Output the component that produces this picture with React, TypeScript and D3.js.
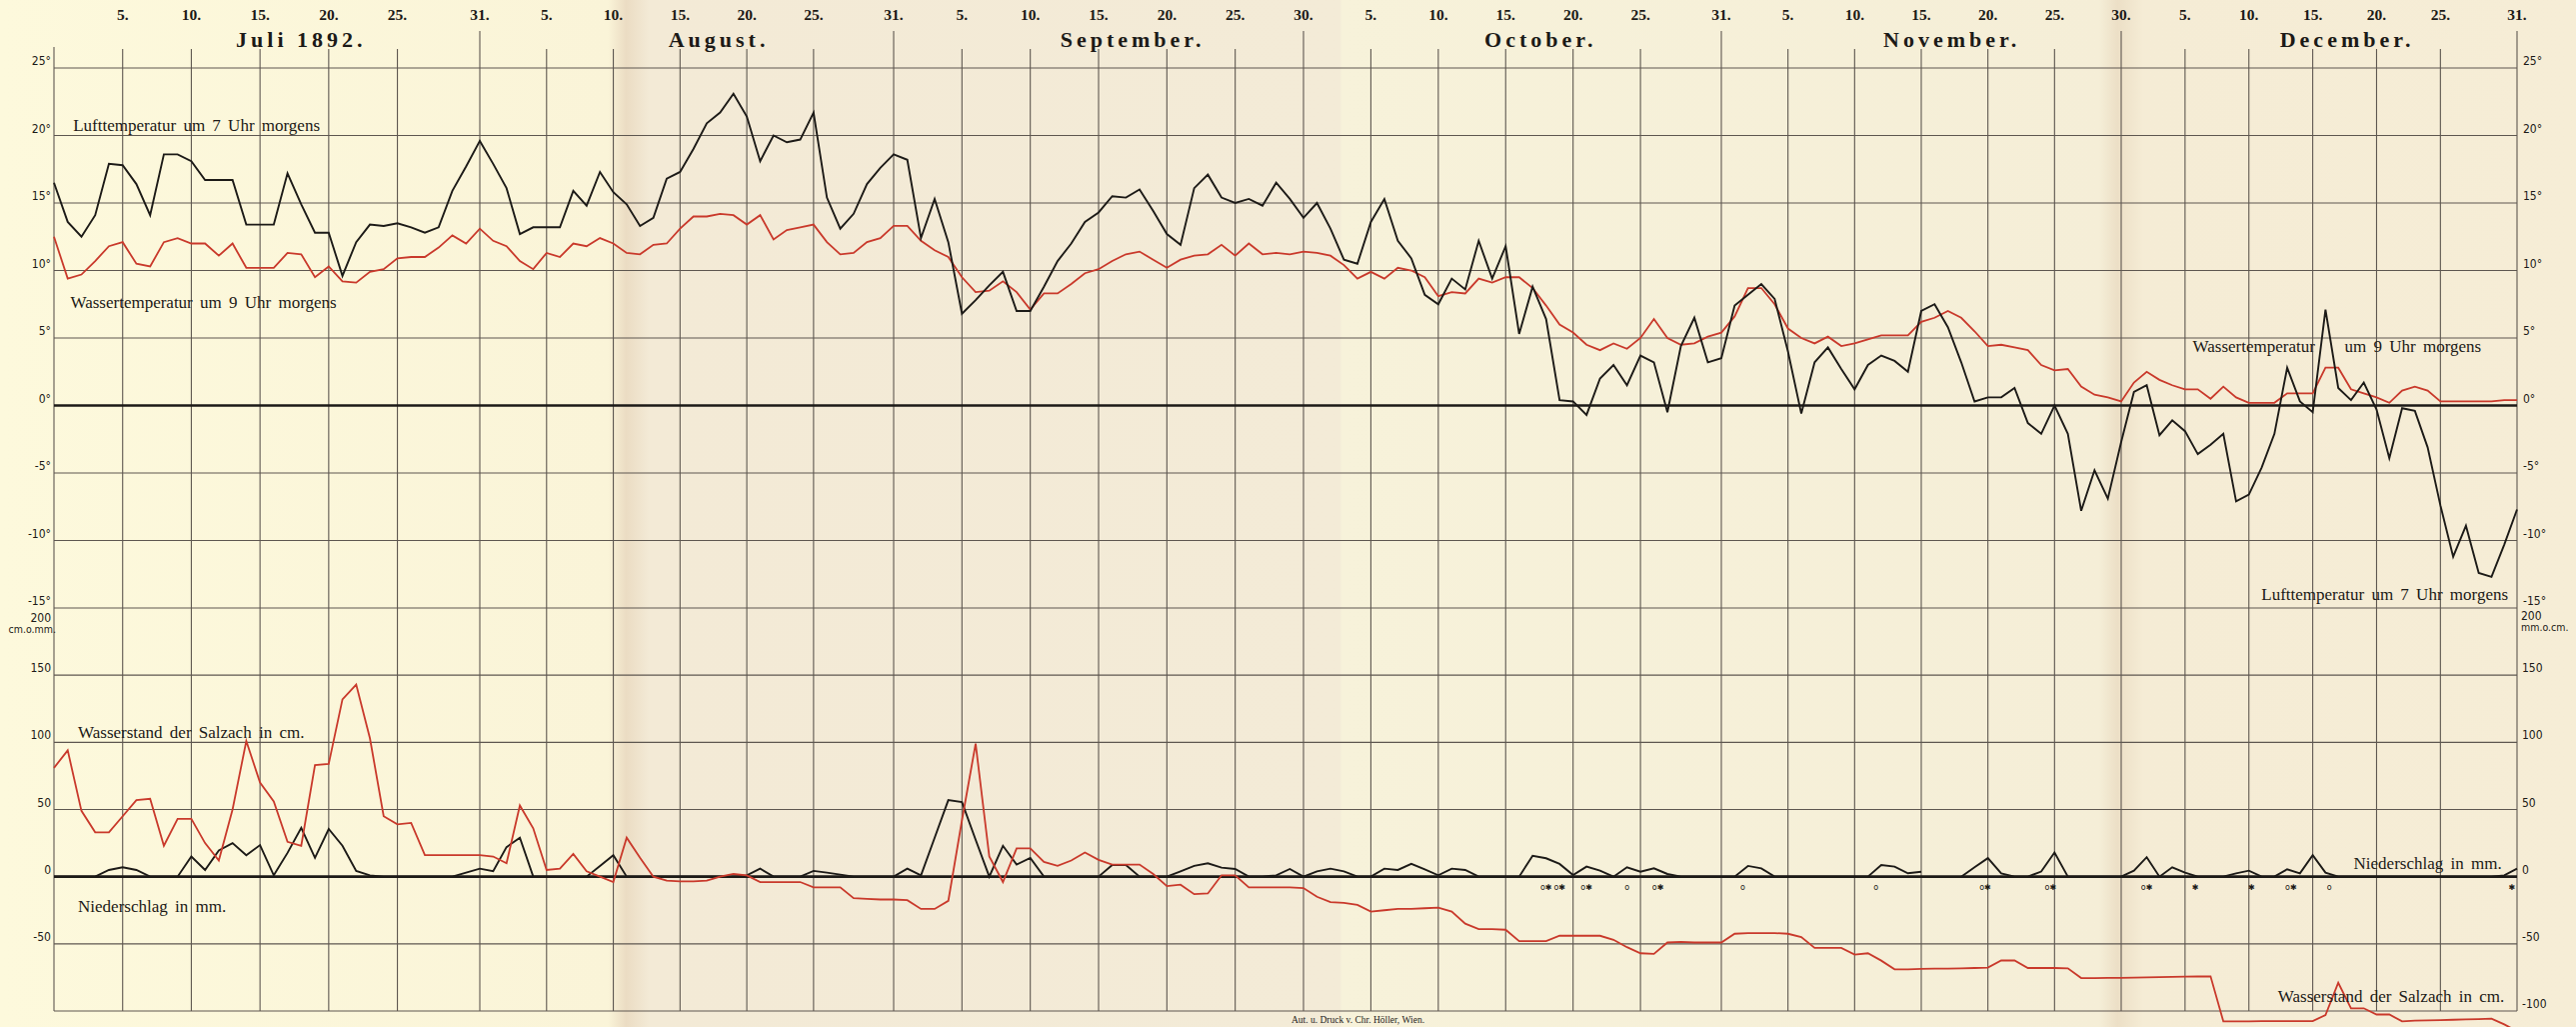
import React, { useEffect, useRef } from 'react';
import * as d3 from 'd3';

const W = 2577;
const H = 1027;

const months = ['Juli 1892.', 'August.', 'September.', 'October.', 'November.', 'December.'];
const monthLengths = [31, 31, 30, 31, 30, 31];
// where the month names sit, counted in chart days
const monthLabelDays = [18, 48.9, 79.5, 109.6, 140.3, 170.7];
const tickDayNumbers = [5, 10, 15, 20, 25];

const tempTicks = [25, 20, 15, 10, 5, 0, -5, -10, -15];
const levelTicksLeft = [150, 100, 50, 0, -50];
const levelTicksRight = [150, 100, 50, 0, -50, -100];

// one value per day, day 0 = left edge of the sheet, day 184 = 31. December
const lufttemperatur = [
  16.5, 13.6, 12.5, 14.1, 17.9, 17.8, 16.4, 14.1, 18.6, 18.6,
  18.1, 16.7, 16.7, 16.7, 13.4, 13.4, 13.4, 17.2, 14.9, 12.8,
  12.8, 9.6, 12.1, 13.4, 13.3, 13.5, 13.2, 12.8, 13.2, 15.9,
  17.7, 19.6, 17.9, 16.1, 12.7, 13.2, 13.2, 13.2, 15.9, 14.8,
  17.3, 15.8, 14.9, 13.3, 13.9, 16.8, 17.3, 19.0, 20.9, 21.7,
  23.1, 21.4, 18.1, 20.0, 19.5, 19.7, 21.7, 15.4, 13.1, 14.2,
  16.4, 17.6, 18.6, 18.2, 12.4, 15.3, 12.1, 6.8, 7.8, 8.9,
  9.9, 7.0, 7.0, 8.8, 10.7, 12.0, 13.6, 14.3, 15.5, 15.4,
  16.0, 14.4, 12.7, 11.9, 16.1, 17.1, 15.4, 15.0, 15.3, 14.8,
  16.5, 15.3, 13.9, 15.0, 13.1, 10.8, 10.5, 13.6, 15.3, 12.2,
  10.9, 8.2, 7.5, 9.4, 8.6, 12.2, 9.4, 11.8, 5.3, 8.8,
  6.4, 0.4, 0.3, -0.7, 2.0, 3.0, 1.5, 3.7, 3.2, -0.5,
  4.4, 6.5, 3.2, 3.5, 7.4, 8.2, 9.0, 7.9, 4.0, -0.6,
  3.2, 4.3, 2.7, 1.2, 3.0, 3.7, 3.3, 2.5, 7.0, 7.5,
  5.8, 3.2, 0.3, 0.6, 0.6, 1.3, -1.3, -2.1, 0.0, -2.1,
  -7.8, -4.8, -6.9, -2.7, 1.0, 1.5, -2.2, -1.1, -1.9, -3.6,
  -2.9, -2.1, -7.1, -6.6, -4.6, -2.1, 2.8, 0.3, -0.5, 7.1,
  1.3, 0.4, 1.7, -0.3, -3.9, -0.2, -0.4, -3.1, -7.4, -11.2,
  -8.9, -12.4, -12.7, -10.3, -7.7,
];

const wassertemperatur = [
  12.5, 9.4, 9.7, 10.7, 11.8, 12.1, 10.5, 10.3, 12.1, 12.4,
  12.0, 12.0, 11.1, 12.0, 10.2, 10.2, 10.2, 11.3, 11.2, 9.5,
  10.3, 9.2, 9.1, 9.9, 10.1, 10.9, 11.0, 11.0, 11.7, 12.6,
  12.0, 13.1, 12.2, 11.8, 10.7, 10.1, 11.3, 11.0, 12.0, 11.8,
  12.4, 12.0, 11.3, 11.2, 11.9, 12.0, 13.1, 14.0, 14.0, 14.2,
  14.1, 13.4, 14.1, 12.3, 13.0, 13.2, 13.4, 12.1, 11.2, 11.3,
  12.1, 12.4, 13.3, 13.3, 12.2, 11.5, 11.0, 9.5, 8.4, 8.5,
  9.2, 8.4, 7.1, 8.3, 8.3, 9.0, 9.8, 10.1, 10.7, 11.2,
  11.4, 10.8, 10.2, 10.8, 11.1, 11.2, 11.9, 11.1, 12.0, 11.2,
  11.3, 11.2, 11.4, 11.3, 11.1, 10.4, 9.4, 9.9, 9.4, 10.2,
  10.0, 9.5, 8.1, 8.4, 8.3, 9.4, 9.1, 9.5, 9.5, 8.7,
  7.4, 6.0, 5.4, 4.5, 4.1, 4.6, 4.2, 5.0, 6.4, 5.0,
  4.5, 4.6, 5.1, 5.4, 6.6, 8.7, 8.7, 7.5, 5.7, 5.0,
  4.6, 5.1, 4.4, 4.6, 4.9, 5.2, 5.2, 5.2, 6.2, 6.5,
  7.0, 6.5, 5.5, 4.4, 4.5, 4.3, 4.1, 3.0, 2.6, 2.7,
  1.4, 0.8, 0.6, 0.3, 1.7, 2.5, 1.9, 1.5, 1.2, 1.2,
  0.5, 1.4, 0.6, 0.2, 0.2, 0.2, 0.9, 0.9, 0.9, 2.8,
  2.8, 1.2, 0.9, 0.6, 0.2, 1.1, 1.4, 1.1, 0.3, 0.3,
  0.3, 0.3, 0.3, 0.4, 0.4,
];

const wasserstand = [
  81, 94, 49, 33, 33, 45, 57, 58, 23, 43,
  43, 25, 12, 50, 101, 70, 56, 26, 23, 83,
  84, 132, 143, 103, 45, 39, 40, 16, 16, 16,
  16, 16, 15, 10, 53, 36, 5, 6, 17, 4,
  0, -4, 29, 14, 0, -3, -3.5, -3.5, -3, 0,
  2, 1, -4, -4, -4, -4, -8, -8, -8, -16,
  -16.5, -17, -17, -17.5, -24, -24, -18, 42, 99, 15,
  -4, 21, 21, 11, 8, 12, 18, 12.5, 9, 9,
  9, 2, -7, -6, -13, -12.5, 1, 1, -8, -8,
  -8, -8, -8.5, -15, -19, -19.5, -21, -26, -25, -24,
  -24, -23.5, -23, -26, -35, -39, -39, -39.5, -48, -48,
  -48, -44, -44, -44, -44, -47, -52.5, -57, -57.5, -49,
  -48.5, -49, -49, -49, -42.5, -42, -42, -42, -42.5, -45,
  -53, -53, -53, -58, -57, -62.5, -69, -69, -68.7, -68.5,
  -68.4, -68.2, -68, -67.7, -62.4, -62.4, -68, -68, -68, -68.2,
  -75.5, -75.5, -75.4, -75.3, -75.2, -75, -74.8, -74.6, -74.4, -74.3,
  -74.2, -107.7, -107.7, -107.7, -107.6, -107.6, -107.6, -107.5, -107.5, -103,
  -79, -98, -98, -102.6, -102.6, -107.7, -107.2, -107, -106.8, -106.5,
  -106.2, -106, -105.7, -110, -115,
];

// null = nothing recorded
const niederschlag: (number | null)[] = [
  0, 0, 0, 0, 5, 7, 5, 0, 0, 0,
  15, 5, 19.5, 25, 16, 23.5, 1, 17.7, 36.3, 14,
  35.5, 23, 4.3, 1, 0, 0, 0, 0, 0, 0,
  3, 6, 4, 22, 29, 0, 0, 0, 0, 0,
  8, 16, 0, 0, 0, 0, 0, 0, 0, 0,
  0, 1, 6, 0, 0, 0, 4.3, 3, 1.5, 0,
  0, 0, 0, 6, 1, 29, 57, 55.5, 27.5, 0,
  23, 9, 14, 0, 0, 0, 0, 0, 8.7, 8.7,
  0, 0, 0, 4, 8, 10, 6.7, 5.7, 0, 0,
  1, 5.7, 0, 4, 6, 4, 0, 0, 6, 5,
  9.5, 5.5, 1, 6, 5, 0, 0, 0, 0, 15.5,
  13.7, 9.5, 1.2, 7.5, 4.5, 0, 7, 3.7, 6.2, 2,
  0, 0, 0, 0, 0, 8, 6.2, 0, 0, 0,
  0, 0, 0, 0, 0, 8.7, 7.5, 2.5, 3.7, null,
  null, 0, 7, 13.8, 2.5, 0, 0, 3.8, 18, 0,
  0, 0, 0, 0, 4.5, 14.5, 0, 7, 3, 0,
  0, 0, 2.5, 4.5, 0, 0, 5.5, 2.5, 16, 3,
  0, 0, 0, 0, 0, 0, 0, 0, 0, 0,
  0, 0, 0, 1, 6,
];

// rain (o) and snow (✱) signs under the zero line
const markDays = [110, 111, 113, 116, 118.3, 124.6, 134.6, 142.8, 147.7, 155, 158.8, 163.2, 166.3, 169.3, 183.6];
const markSigns = ['o✱', 'o✱', 'o✱', 'o', 'o✱', 'o', 'o', 'o✱', 'o✱', 'o✱', '✱', '✱', 'o✱', 'o', '✱'];

const SERIF = '"Liberation Serif", "DejaVu Serif", serif';
const NARROW = '"Liberation Sans Narrow", "DejaVu Sans Condensed", "Liberation Sans", sans-serif';
const INK = '#1c1a17';
const RED = '#c9392b';
const GRID = '#5e5750';

const App: React.FC = () => {
  const svgRef = useRef<SVGSVGElement>(null);

  useEffect(() => {
    if (!svgRef.current) return;
    const svg = d3.select(svgRef.current);
    svg.selectAll('*').remove();

    const monthStarts = Array.from(d3.cumsum([0, ...monthLengths]));
    const lastDay = monthStarts[monthStarts.length - 1];

    // the printed grid is not quite even, so pin each month end
    const x = d3.scaleLinear().domain(monthStarts).range([54, 480, 894, 1304, 1722, 2122, 2518]);
    const yTemp = d3.scaleLinear().domain([-15, 25]).range([608, 68]);
    const yLevel = d3.scaleLinear().domain([-100, 200]).range([1011, 608]);

    const left = x(0);
    const right = x(lastDay);
    const bottom = yLevel(-100);

    // paper with its folds
    const defs = svg.append('defs');
    const paper = defs.append('linearGradient').attr('id', 'paper')
      .attr('x1', '0%').attr('x2', '100%').attr('y1', '0%').attr('y2', '0%');
    [
      [0, '#fdf9dc'], [0.236, '#faf4d8'], [0.243, '#ebdcc3'], [0.252, '#f3ead6'],
      [0.52, '#f3ebd7'], [0.521, '#f7f2da'], [0.815, '#f5eed7'], [0.822, '#ecdfc6'],
      [0.832, '#f5ecd5'], [1, '#f6edd6'],
    ].forEach(([o, c]) => paper.append('stop').attr('offset', o as number).attr('stop-color', c as string));
    svg.append('rect').attr('width', W).attr('height', H).attr('fill', 'url(#paper)');

    // vertical day lines
    const ticks: { day: number; label: string; end: boolean }[] = [];
    months.forEach((_, i) => {
      [...tickDayNumbers, monthLengths[i]].forEach(d => {
        ticks.push({ day: monthStarts[i] + d, label: `${d}.`, end: d === monthLengths[i] });
      });
    });

    const grid = svg.append('g').attr('stroke', GRID).attr('stroke-width', 1.1);
    grid.append('line').attr('x1', left).attr('x2', left).attr('y1', 47).attr('y2', bottom);
    grid.selectAll('line.day').data(ticks).join('line').attr('class', 'day')
      .attr('x1', d => x(d.day)).attr('x2', d => x(d.day))
      .attr('y1', d => (d.end ? 31 : 49)).attr('y2', bottom);

    // horizontal lines
    grid.selectAll('line.temp').data(tempTicks).join('line').attr('class', 'temp')
      .attr('x1', left).attr('x2', right)
      .attr('y1', d => yTemp(d)).attr('y2', d => yTemp(d))
      .attr('stroke-width', d => (d === 0 ? 2.6 : 1.2))
      .attr('stroke', d => (d === 0 ? INK : GRID));
    grid.selectAll('line.level').data(levelTicksRight).join('line').attr('class', 'level')
      .attr('x1', left).attr('x2', right)
      .attr('y1', d => yLevel(d)).attr('y2', d => yLevel(d))
      .attr('stroke-width', d => (d === 0 ? 2.6 : 1.2))
      .attr('stroke', d => (d === 0 ? INK : GRID));

    // day numbers and month names
    svg.append('g').selectAll('text').data(ticks).join('text')
      .attr('x', d => x(d.day)).attr('y', 20)
      .attr('text-anchor', 'middle')
      .attr('font-family', SERIF).attr('font-weight', 700).attr('font-size', 15.5)
      .attr('fill', INK).text(d => d.label);
    svg.append('g').selectAll('text').data(months).join('text')
      .attr('x', (_, i) => x(monthLabelDays[i])).attr('y', 47)
      .attr('text-anchor', 'middle')
      .attr('font-family', SERIF).attr('font-weight', 700).attr('font-size', 22)
      .attr('letter-spacing', 4)
      .attr('fill', INK).text(d => d);

    // axis numbers
    const axis = svg.append('g').attr('font-family', NARROW).attr('font-size', 12).attr('fill', INK);
    axis.selectAll('text.tl').data(tempTicks).join('text').attr('class', 'tl')
      .attr('x', left - 3).attr('y', d => yTemp(d) - 3).attr('text-anchor', 'end').text(d => `${d}°`);
    axis.selectAll('text.tr').data(tempTicks).join('text').attr('class', 'tr')
      .attr('x', right + 6).attr('y', d => yTemp(d) - 3).attr('text-anchor', 'start').text(d => `${d}°`);
    axis.selectAll('text.ll').data(levelTicksLeft).join('text').attr('class', 'll')
      .attr('x', left - 3).attr('y', d => yLevel(d) - 3).attr('text-anchor', 'end').text(d => `${d}`);
    axis.selectAll('text.lr').data(levelTicksRight).join('text').attr('class', 'lr')
      .attr('x', right + 5).attr('y', d => yLevel(d) - 3).attr('text-anchor', 'start').text(d => `${d}`);
    axis.append('text').attr('x', left - 3).attr('y', yLevel(200) + 14).attr('text-anchor', 'end').text('200');
    axis.append('text').attr('x', left + 2).attr('y', yLevel(200) + 25).attr('text-anchor', 'end')
      .attr('font-size', 10.5).text('cm.o.mm.');
    axis.append('text').attr('x', right + 4).attr('y', yLevel(200) + 12).text('200');
    axis.append('text').attr('x', right + 4).attr('y', yLevel(200) + 23).attr('font-size', 10.5).text('mm.o.cm.');

    // series
    const dayLine = (scale: d3.ScaleLinear<number, number>) =>
      d3.line<number | null>().defined(d => d !== null).x((_, i) => x(i)).y(d => scale(d as number));

    const plot = svg.append('g').attr('fill', 'none').attr('stroke-linejoin', 'miter');
    plot.append('path').attr('d', dayLine(yTemp)(wassertemperatur))
      .attr('stroke', RED).attr('stroke-width', 1.8);
    plot.append('path').attr('d', dayLine(yTemp)(lufttemperatur))
      .attr('stroke', INK).attr('stroke-width', 1.9);
    plot.append('path').attr('d', dayLine(yLevel)(niederschlag))
      .attr('stroke', INK).attr('stroke-width', 1.9);
    plot.append('path').attr('d', dayLine(yLevel)(wasserstand))
      .attr('stroke', RED).attr('stroke-width', 1.8);

    svg.append('g').selectAll('text').data(markDays).join('text')
      .attr('x', d => x(d)).attr('y', yLevel(0) + 13)
      .attr('text-anchor', 'middle').attr('font-family', '"DejaVu Sans", sans-serif')
      .attr('font-size', 8).attr('fill', INK).text((_, i) => markSigns[i]);

    // captions
    const notes = svg.append('g').attr('font-family', SERIF).attr('font-size', 17)
      .attr('word-spacing', 3).attr('fill', INK);
    notes.append('text').attr('x', x(1.4)).attr('y', yTemp(20.3)).text('Lufttemperatur um 7 Uhr morgens');
    notes.append('text').attr('x', x(1.2)).attr('y', yTemp(7.2)).text('Wassertemperatur um 9 Uhr morgens');
    notes.append('text').attr('x', x(158.6)).attr('y', yTemp(4)).text('Wassertemperatur');
    notes.append('text').attr('x', x(170.5)).attr('y', yTemp(4)).text('um 9 Uhr morgens');
    notes.append('text').attr('x', x(183.3)).attr('y', yTemp(-14.4)).attr('text-anchor', 'end')
      .text('Lufttemperatur um 7 Uhr morgens');
    notes.append('text').attr('x', x(1.75)).attr('y', yLevel(103)).text('Wasserstand der Salzach in cm.');
    notes.append('text').attr('x', x(1.75)).attr('y', yLevel(-26)).text('Niederschlag in mm.');
    notes.append('text').attr('x', x(182.8)).attr('y', yLevel(6)).attr('text-anchor', 'end')
      .text('Niederschlag in mm.');
    notes.append('text').attr('x', x(183)).attr('y', yLevel(-93.5)).attr('text-anchor', 'end')
      .text('Wasserstand der Salzach in cm.');

    svg.append('text').attr('x', 1292).attr('y', 1023)
      .attr('font-family', SERIF).attr('font-size', 9.5).attr('fill', INK)
      .text('Aut. u. Druck v. Chr. Höller, Wien.');
  }, []);

  return (
    <svg
      ref={svgRef}
      width={W}
      height={H}
      style={{ position: 'absolute', left: 0, top: 0, display: 'block' }}
    />
  );
};

export default App;
